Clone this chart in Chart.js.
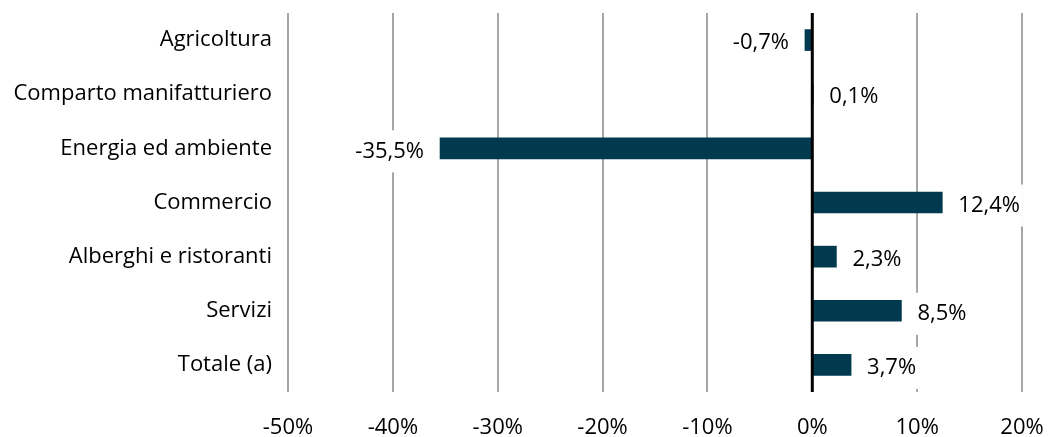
<!DOCTYPE html>
<html>
<head>
<meta charset="utf-8">
<script src="https://cdn.jsdelivr.net/npm/chart.js@4"></script>
<style>
  html, body { margin: 0; padding: 0; background: #fff; }
  #wrap { width: 1048px; height: 437px; }
</style>
</head>
<body>
<div id="wrap"><canvas id="chart"></canvas></div>
<script>
// categories and values (%)
const categories = ['Agricoltura', 'Comparto manifatturiero', 'Energia ed ambiente', 'Commercio', 'Alberghi e ristoranti', 'Servizi', 'Totale (a)'];
const values = [-0.7, 0.1, -35.5, 12.4, 2.3, 8.5, 3.7];
const xTicks = [-50, -40, -30, -20, -10, 0, 10, 20];

const FONT = 'Open Sans';
const fmt = v => v.toFixed(1).replace('.', ',') + '%';

// value labels with white box behind them
const valueLabels = {
    id: 'valueLabels',
    afterDatasetsDraw(chart) {
        const ctx = chart.ctx;
        const meta = chart.getDatasetMeta(0);
        ctx.save();
        ctx.font = '22px "' + FONT + '"';
        ctx.textBaseline = 'middle';
        meta.data.forEach((bar, i) => {
            const v = values[i];
            const txt = fmt(v);
            const w = ctx.measureText(txt).width;
            const neg = v < 0;
            const x = neg ? bar.x - 16 - w : bar.x + 16;
            const y = bar.y + 3;
            ctx.fillStyle = '#fff';
            ctx.fillRect(x - 3, y - 21, w + 6, 42);
            ctx.fillStyle = '#000';
            ctx.textAlign = 'left';
            ctx.fillText(txt, x, y);
        });
        ctx.restore();
    }
};

// zero line drawn above the bars
const zeroLine = {
    id: 'zeroLine',
    afterDatasetsDraw(chart) {
        const ctx = chart.ctx;
        const x = chart.scales.x.getPixelForValue(0);
        ctx.save();
        ctx.strokeStyle = '#000';
        ctx.lineWidth = 3;
        ctx.beginPath();
        ctx.moveTo(x, chart.chartArea.top);
        ctx.lineTo(x, chart.chartArea.bottom);
        ctx.stroke();
        ctx.restore();
    }
};

new Chart(document.getElementById('chart'), {
    type: 'bar',
    data: {
        labels: categories,
        datasets: [{
            data: values,
            backgroundColor: '#013a4e',
            barThickness: 21
        }]
    },
    options: {
        indexAxis: 'y',
        responsive: true,
        maintainAspectRatio: false,
        animation: false,
        layout: { padding: { top: 13, right: 26, left: 0, bottom: 0 } },
        plugins: { legend: { display: false }, tooltip: { enabled: false } },
        scales: {
            x: {
                min: -50,
                max: 20,
                afterBuildTicks: axis => { axis.ticks = xTicks.map(v => ({ value: v })); },
                afterFit: axis => {
                    axis.height = 45;
                    axis.paddingLeft = 0;
                    axis.paddingRight = 0;
                },
                grid: {
                    color: '#a6a6a6',
                    lineWidth: 2,
                    drawTicks: false
                },
                border: { display: false },
                ticks: {
                    padding: 23,
                    color: '#000',
                    font: { family: FONT, size: 22 },
                    callback: v => v + '%'
                }
            },
            y: {
                afterFit: axis => {
                    axis.width = 288;
                    axis.paddingTop = 0;
                    axis.paddingBottom = 0;
                },
                grid: { display: false, drawTicks: false },
                border: { display: false },
                ticks: {
                    padding: 16,
                    color: '#000',
                    font: { family: FONT, size: 22 }
                }
            }
        }
    },
    plugins: [zeroLine, valueLabels]
});
</script>
</body>
</html>
